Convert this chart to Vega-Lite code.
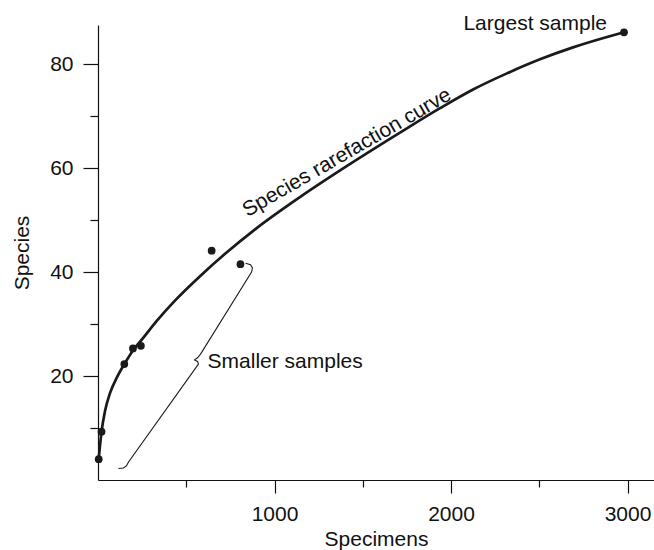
{
  "$schema": "https://vega.github.io/schema/vega-lite/v6.json",
  "width": 556,
  "height": 455,
  "autosize": {"type": "none"},
  "padding": {"left": 98, "top": 25, "right": 0, "bottom": 70},
  "background": "white",
  "config": {
    "view": {"stroke": null},
    "font": "Liberation Sans",
    "axis": {
      "grid": false,
      "labelFont": "Liberation Sans",
      "titleFont": "Liberation Sans",
      "labelFontSize": 21,
      "titleFontSize": 21,
      "titleFontWeight": "normal",
      "labelColor": "#111111",
      "titleColor": "#111111",
      "domainColor": "#111111",
      "tickColor": "#111111",
      "domainWidth": 1.2,
      "tickWidth": 1.2,
      "labelFlush": false,
      "labelOverlap": false
    }
  },
  "datasets": {
    "curve": [
      {"x": 4, "y": 4.0},
      {"x": 20, "y": 9.3},
      {"x": 40, "y": 13.3},
      {"x": 68, "y": 16.7},
      {"x": 108, "y": 19.8},
      {"x": 153, "y": 22.5},
      {"x": 204, "y": 25.2},
      {"x": 248, "y": 27.0},
      {"x": 333, "y": 30.6},
      {"x": 436, "y": 34.5},
      {"x": 578, "y": 39.2},
      {"x": 720, "y": 43.5},
      {"x": 890, "y": 48.2},
      {"x": 1144, "y": 54.4},
      {"x": 1411, "y": 60.4},
      {"x": 1711, "y": 66.8},
      {"x": 1938, "y": 71.5},
      {"x": 2125, "y": 75.1},
      {"x": 2317, "y": 78.2},
      {"x": 2504, "y": 80.9},
      {"x": 2691, "y": 83.2},
      {"x": 2884, "y": 85.2},
      {"x": 2980, "y": 86.1}
    ],
    "samples": [
      {"x": 4, "y": 4.0},
      {"x": 20, "y": 9.3},
      {"x": 149, "y": 22.3},
      {"x": 198, "y": 25.3},
      {"x": 243, "y": 25.8},
      {"x": 644, "y": 44.1},
      {"x": 807, "y": 41.5},
      {"x": 2980, "y": 86.1}
    ],
    "brace": [
      {"i": 1, "x": 836, "y": 41.7},
      {"i": 2, "x": 864, "y": 41.4},
      {"i": 3, "x": 875, "y": 40.8},
      {"i": 4, "x": 870, "y": 40.0},
      {"i": 5, "x": 581, "y": 24.2},
      {"i": 6, "x": 564, "y": 23.5},
      {"i": 7, "x": 547, "y": 23.1},
      {"i": 8, "x": 564, "y": 22.8},
      {"i": 9, "x": 569, "y": 22.3},
      {"i": 10, "x": 173, "y": 3.46},
      {"i": 11, "x": 161, "y": 2.7},
      {"i": 12, "x": 144, "y": 2.3},
      {"i": 13, "x": 116, "y": 2.2}
    ]
  },
  "encoding": {
    "x": {
      "field": "x",
      "type": "quantitative",
      "scale": {"domain": [0, 3150], "nice": false, "zero": false},
      "axis": {
        "title": "Specimens",
        "values": [500, 1000, 1500, 2000, 2500, 3000],
        "format": "d",
        "tickSize": {"condition": {"test": "datum.value % 1000 === 0", "value": 13}, "value": 7},
        "labelExpr": "datum.value % 1000 === 0 ? datum.label : ''",
        "labelPadding": 10,
        "titlePadding": 4
      }
    },
    "y": {
      "field": "y",
      "type": "quantitative",
      "scale": {"domain": [0, 87.5], "nice": false, "zero": false},
      "axis": {
        "title": "Species",
        "values": [10, 20, 30, 40, 50, 60, 70, 80],
        "format": "d",
        "tickSize": {"condition": {"test": "datum.value % 20 === 0", "value": 15}, "value": 8},
        "labelExpr": "datum.value % 20 === 0 ? datum.label : ''",
        "labelPadding": 10,
        "titlePadding": 17
      }
    }
  },
  "layer": [
    {
      "data": {"name": "curve"},
      "mark": {"type": "line", "interpolate": "monotone", "strokeWidth": 2.7, "color": "#1a1a1a"}
    },
    {
      "data": {"name": "samples"},
      "mark": {"type": "point", "filled": true, "size": 60, "opacity": 1, "color": "#1a1a1a"}
    },
    {
      "data": {"name": "brace"},
      "mark": {"type": "line", "strokeWidth": 1.1, "color": "#1a1a1a"},
      "encoding": {"order": {"field": "i", "type": "quantitative"}}
    },
    {
      "data": {"values": [{"x": 2980, "y": 86.1, "label": "Largest sample"}]},
      "mark": {"type": "text", "align": "right", "baseline": "alphabetic", "dx": -17, "dy": -2, "fontSize": 21, "font": "Liberation Sans", "color": "#111111"},
      "encoding": {"text": {"field": "label"}}
    },
    {
      "data": {"values": [{"x": 1425, "y": 62.1, "label": "Species rarefaction curve"}]},
      "mark": {"type": "text", "align": "center", "baseline": "middle", "angle": 330, "dy": -5, "fontSize": 21, "font": "Liberation Sans", "color": "#111111"},
      "encoding": {"text": {"field": "label"}}
    },
    {
      "data": {"values": [{"x": 547, "y": 23.1, "label": "Smaller samples"}]},
      "mark": {"type": "text", "align": "left", "baseline": "middle", "dx": 13, "dy": 2, "fontSize": 21, "font": "Liberation Sans", "color": "#111111"},
      "encoding": {"text": {"field": "label"}}
    }
  ]
}
